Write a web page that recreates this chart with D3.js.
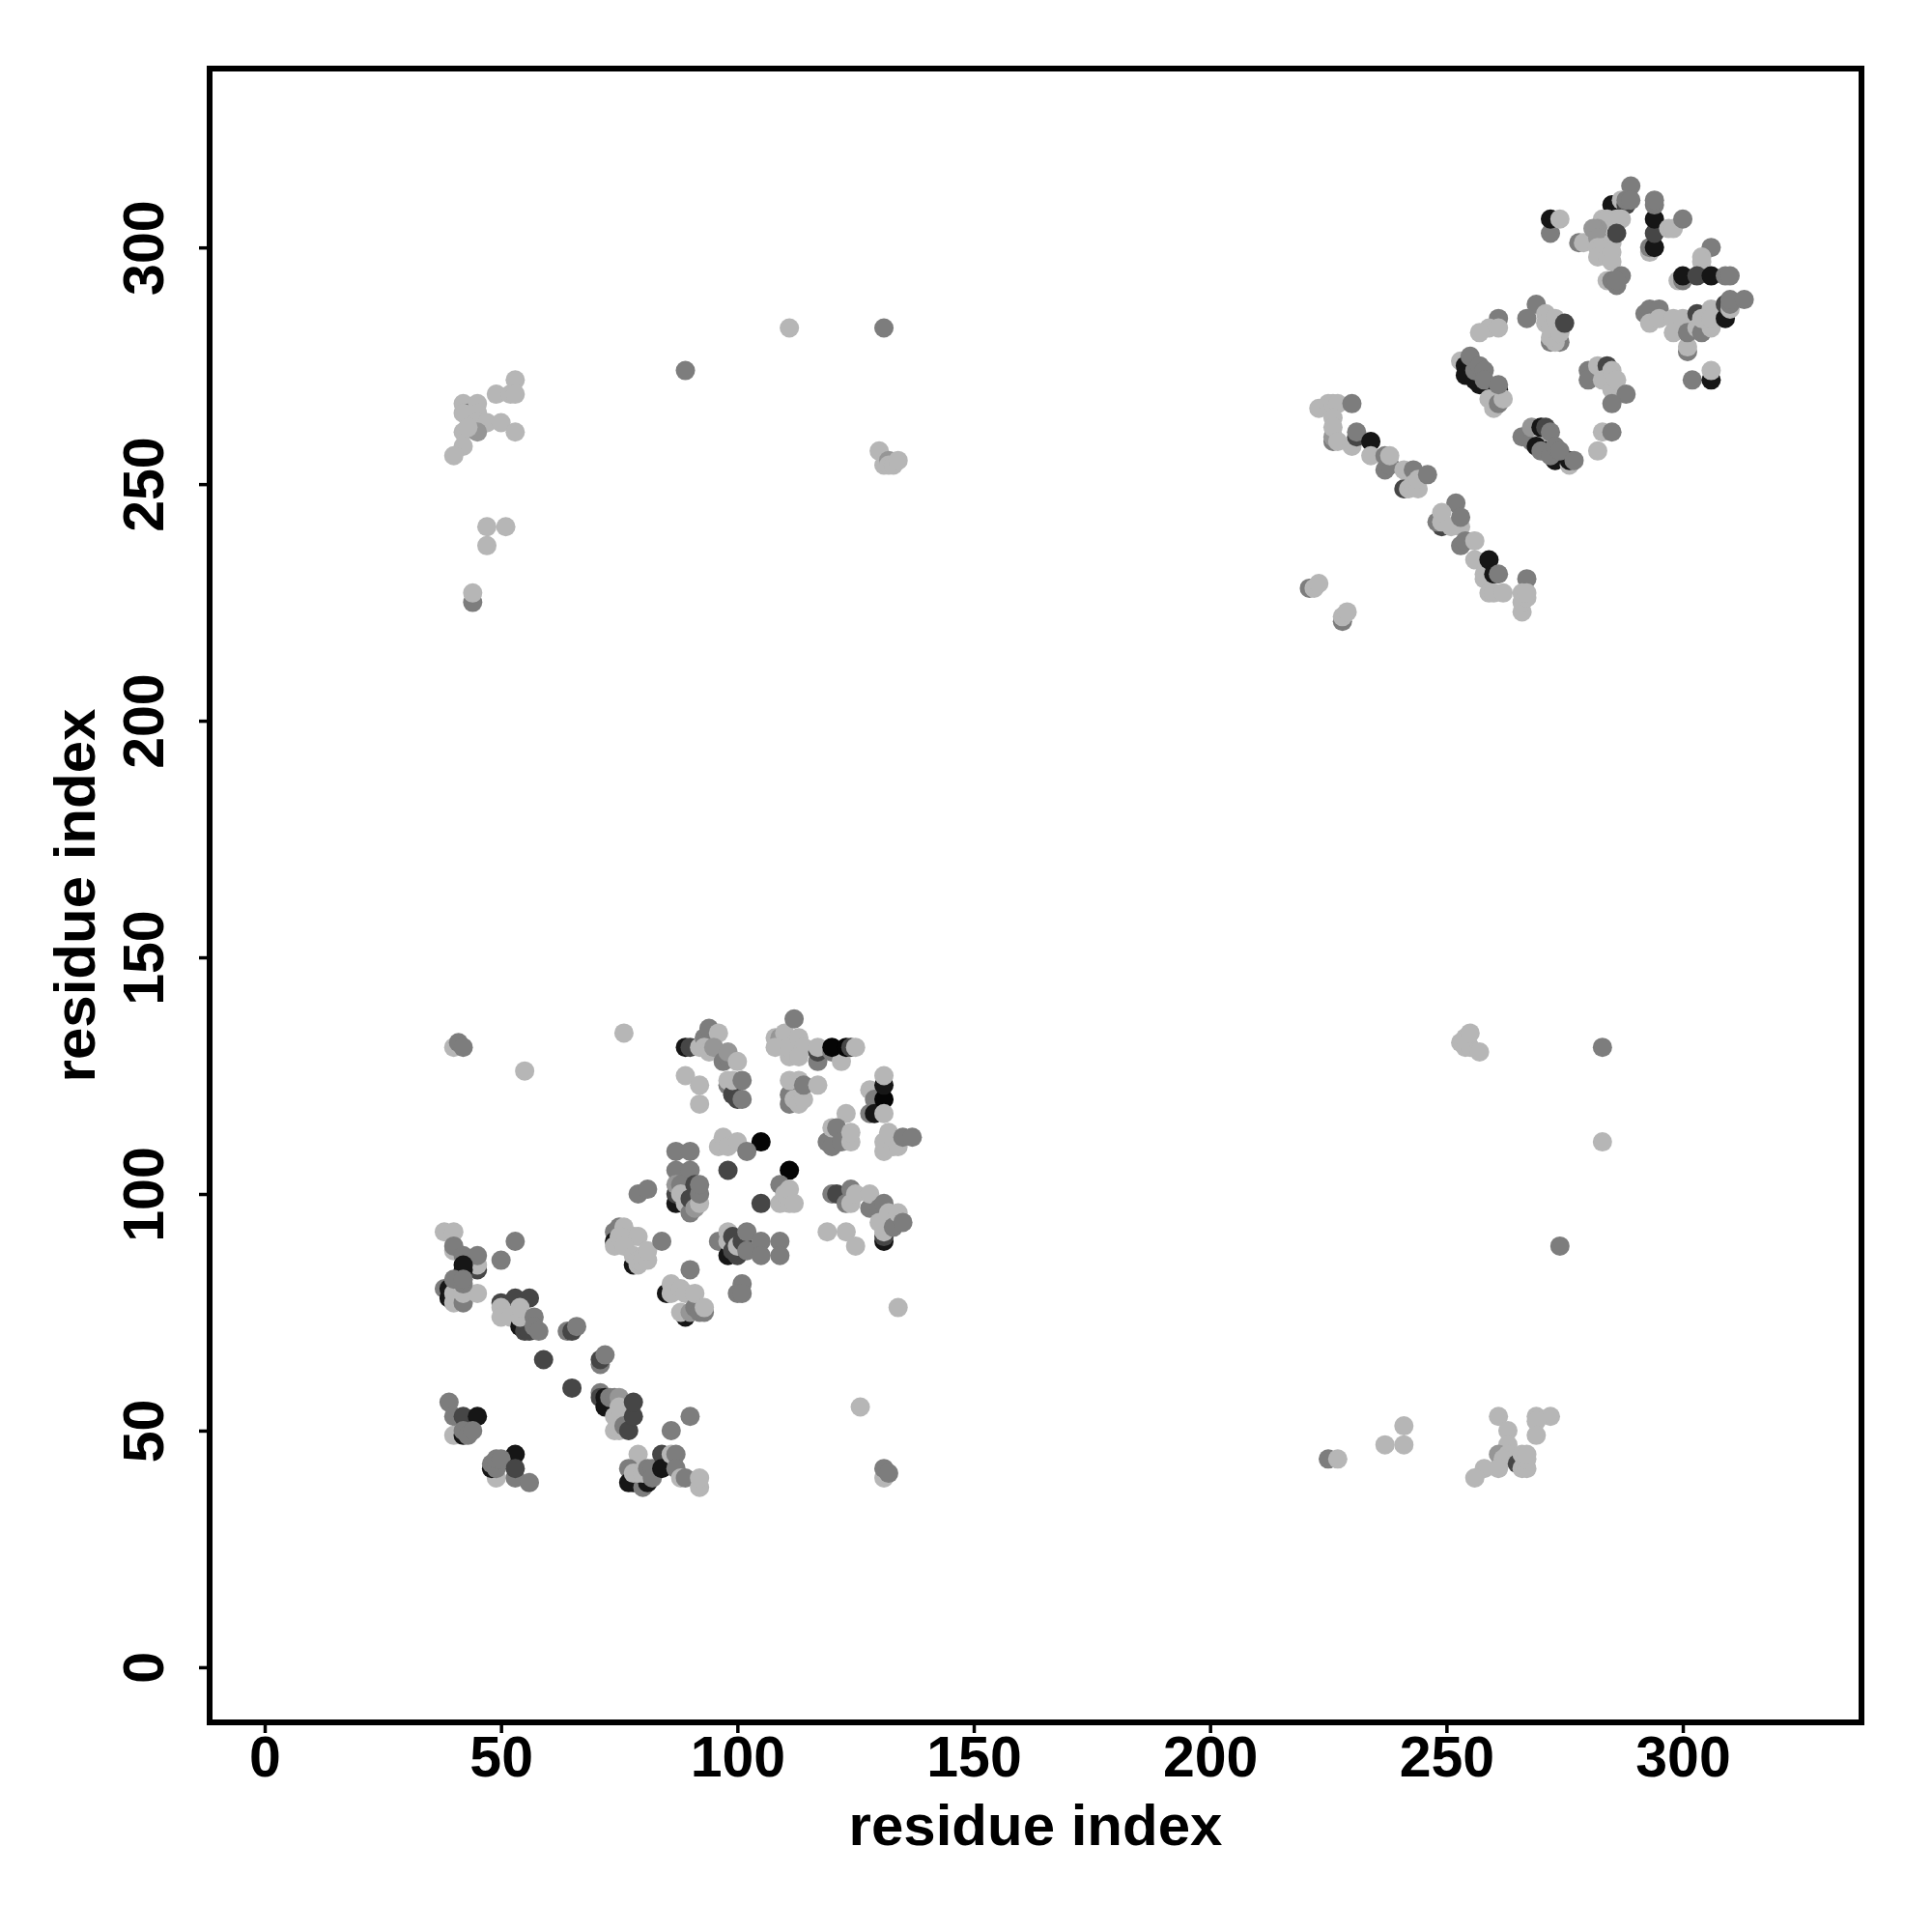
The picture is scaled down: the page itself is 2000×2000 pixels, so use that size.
<!DOCTYPE html>
<html><head><meta charset="utf-8">
<script src="https://cdn.jsdelivr.net/npm/d3@7"></script>
<style>html,body{margin:0;background:#fff}svg{display:block}</style></head>
<body><svg id="c" width="2000" height="2000"></svg>
<script>
const L=182,N=150,M=125,D=70,K=22,B=5;
const tickValues=[0,50,100,150,200,250,300];
const xLabel="residue index", yLabel="residue index";
// [x residue, y residue, grey level], back to front
const lowerDiagonal=[
[38,92,L],[40,92,L],[40,88,L],[40,89,M],[42,87,M],[45,84,D],[45,85,L],[45,87,M],[42,84,K],[42,85,K],[53,90,M],[50,86,M],
[38,80,M],[39,78,K],[39,80,K],[40,77,L],[40,79,L],[40,82,M],[42,77,M],[42,79,L],[45,79,L],[42,81,M],[42,82,M],
[50,77,D],[53,78,D],[56,78,D],[50,76,L],[50,74,L],[52,74,L],[54,72,K],[55,71,D],[56,71,D],[54,74,L],[54,76,L],[57,74,M],[57,72,M],[58,71,M],
[64,71,M],[65,71,D],[66,72,M],[59,65,D],[65,59,D],[71,64,M],[71,65,D],[72,66,M],
[71,58,M],[71,57,D],[72,57,K],[72,55,K],[73,57,M],[74,57,M],[75,57,N],[74,53,L],[74,50,L],[75,50,L],[75,52,L],[75,55,L],[76,51,M],[77,50,D],[78,53,D],[78,56,D],
[90,53,M],[86,50,M],[39,56,M],[40,53,M],[42,53,D],[45,53,K],[40,49,L],[42,49,K],[42,50,M],[43,49,M],[44,50,M],
[53,45,K],[49,40,L],[48,42,K],[48,43,M],[49,42,M],[49,44,M],[50,44,M],[53,40,M],[53,42,D],[56,39,M],
[79,45,L],[77,42,M],[78,39,K],[77,39,K],[80,38,M],[81,39,K],[78,41,L],[79,41,L],[80,41,L],[81,42,M],[82,42,M],[82,40,M],
[84,45,D],[84,42,K],[86,45,L],[87,45,M],[87,42,M],[88,40,L],[89,40,M],[92,38,L],[92,40,L]
];
const lowerCluster=[
[87,109,M],[90,109,M],[87,105,M],[90,105,M],[79,100,M],[81,101,M],[87,98,K],[87,100,D],[87,102,N],[88,102,M],[88,100,L],[89,98,L],[90,96,M],[90,99,D],[91,97,N],[92,98,L],[91,102,D],[92,100,M],[92,102,M],
[74,92,M],[75,93,M],[74,90,K],[74,89,L],[76,93,L],[75,91,L],[78,91,L],[79,91,L],[76,89,L],[78,85,K],[78,87,L],[79,85,L],[79,86,L],[80,86,L],[81,86,L],[81,88,L],
[84,90,M],[90,84,M],[85,79,K],[86,81,L],[86,79,L],[88,80,L],[89,74,K],[88,75,L],[89,79,L],[90,75,N],[91,76,M],[91,79,L],[92,75,M],[93,75,M],[93,76,L],
[101,81,M],[100,79,M],[101,79,M],
[96,90,M],[98,87,K],[98,92,L],[98,90,L],[100,87,D],[99,91,D],[99,88,D],[100,89,L],[101,90,D],[102,88,M],[102,92,M],[105,90,M],[105,87,M],[109,90,M],[109,87,M],
[98,105,D],[105,98,D],[105,111,B],[111,105,B],
[96,110,L],[97,112,L],[98,110,L],[100,111,L],[102,109,M],
[89,131,K],[90,131,D],[92,131,L],[93,133,M],[94,135,M],[96,134,L],[93,131,L],[94,130,L],[95,131,N],[97,128,M],[98,129,M],[98,130,N],[100,128,L],[89,125,L],[92,123,L],[92,119,L],
[98,123,M],[98,124,L],[99,121,D],[99,124,L],[100,120,D],[101,120,M],[101,124,M],
[108,133,L],[109,133,N],[110,134,L],[112,137,M],[108,131,L],[111,129,L],[111,131,L],[113,133,L],[114,131,L],[113,129,L],[117,128,M],[117,130,D],[117,131,L],[120,130,M],[122,128,L],[120,131,B],[123,131,B],[124,131,D],[125,131,L],
[111,119,M],[111,121,M],[111,124,L],[112,120,L],[113,119,L],[113,124,L],[114,120,L],[114,123,M],[117,123,L],[128,122,L],[129,120,M],[128,117,M],[129,117,K],[123,117,L],[131,120,B],[131,123,K],[131,117,L],[131,125,L],
[119,111,M],[120,110,M],[120,114,L],[121,114,M],[122,111,M],[124,111,L],[124,113,L],[131,111,L],[131,109,L],[133,110,L],[132,113,L],[134,110,L],[135,112,M],[137,112,M],
[109,102,M],[109,98,L],[110,100,L],[111,98,L],[111,101,L],[112,98,L],
[120,100,M],[121,100,D],[124,101,M],[123,98,M],[124,98,L],[125,100,L],[128,97,M],[128,100,L],[130,97,M],[131,98,M],[131,90,K],[131,91,D],[131,92,L],[130,94,L],[132,96,L],[133,93,M],[134,96,L],[135,94,M],
[119,92,L],[123,92,L],[125,89,L],[134,76,L],[126,55,L],[131,40,L],[131,42,M],[132,41,M],
[40,131,L],[41,132,M],[42,131,M],[76,134,L],[55,126,L]
];
const upperLeft=[
[53,272,L],[49,269,L],[52,269,L],[53,269,L],[42,267,L],[43,265,D],[45,267,L],[42,265,L],[45,265,L],[45,263,L],[47,263,L],[50,263,L],[53,261,L],[42,261,L],[45,261,N],[43,262,L],[42,258,L],[40,256,L],
[47,241,L],[51,241,L],[47,237,L],[44,225,M],[44,227,L],[89,274,M],[111,283,L],[131,283,M],
[130,257,L],[131,254,L],[132,255,N],[132,254,L],[133,254,L],[134,255,L]
];
const lowerRight=[
[254,131,L],[253,132,L],[255,131,L],[254,133,L],[255,134,L],[257,130,L],[283,131,M],[283,111,L],[274,89,M],[225,44,M],[227,44,L],
[241,51,L],[237,47,L],[241,47,L],[261,53,L],[263,50,L],[269,53,L],[272,53,L],[269,52,L],[269,49,L],[263,47,L],[261,45,N],[263,45,L],[262,44,L],[261,42,L],[258,42,L],[256,40,L],[265,43,D],[266,42,L],[267,42,L],[266,45,L],[267,44,L],[267,45,L]
];
const upperHelix=[
[223,266,L],[225,267,L],[226,267,L],[227,267,L],[230,267,M],[226,264,L],[226,259,M],[226,260,N],[226,262,L],[227,259,L],[230,258,L],[231,260,D],[231,261,M],[234,259,K],[234,256,L],[237,253,M],[238,254,M],[237,256,M],[238,256,L],
[241,249,D],[242,249,L],[241,253,L],[243,253,M],[243,250,L],[244,249,L],[244,251,L],[246,252,M],
[252,246,M],[249,241,D],[248,242,M],[249,242,L],[249,244,L],[251,241,L],[253,241,L],[253,243,M],[253,237,M],[254,238,M],[256,238,L],[256,234,L],[258,231,L],[258,230,L],[259,234,K],[260,231,K],[261,231,M],
[259,227,L],[260,227,L],[262,227,L],[267,230,M],[266,223,L],[266,225,L],[267,226,L],[266,227,L],[267,227,L],
[221,228,M],[222,228,L],[223,229,L],[228,221,M],[228,222,L],[229,223,L]
];
const upperCluster=[
[261,285,M],[259,283,L],[261,283,L],[257,282,L],[269,288,M],[267,285,M],[271,286,L],[271,284,L],[272,280,M],[274,280,M],[273,280,L],[272,281,L],[272,283,L],[273,285,L],[274,282,L],[275,284,D],
[253,276,L],[254,275,K],[254,273,K],[256,272,K],[257,271,K],[259,270,K],[255,277,M],[256,274,M],[257,275,M],[258,274,M],[258,272,M],[261,270,K],[259,268,L],[260,266,L],[261,267,M],[262,268,L],[261,271,M],
[280,274,M],[280,272,M],[282,275,L],[284,275,D],[283,272,L],[285,274,L],[285,270,L],[286,272,L],[288,269,M],[285,267,M],
[282,257,L],[283,261,L],[285,261,M],
[266,260,M],[268,259,M],[268,262,N],[270,259,L],[270,262,K],[271,262,D],[269,258,K],[271,257,K],[273,255,K],[276,254,L],[276,255,K],[272,261,M],[270,257,M],[272,256,M],[273,258,M],[274,257,M],[277,255,M]
];
const upperCorner=[
[289,313,M],[285,309,K],[287,310,L],[288,309,D],[288,310,M],[289,310,M],[293,299,L],[293,300,M],[294,300,K],[294,303,D],[294,306,K],[294,309,M],[294,310,M],
[297,304,L],[298,304,L],[300,306,M],[278,301,M],[279,301,L],[283,306,L],[284,306,L],[282,304,N],[281,304,N],[282,302,N],[282,300,L],[283,300,L],[282,298,L],[284,298,L],[285,301,L],[285,299,L],[285,297,L],[284,293,L],[286,306,L],[287,306,L],[286,303,D],
[285,293,M],[286,292,M],[287,294,M],[286,293,M],
[272,303,M],[272,306,K],[274,306,L],
[306,300,M],[304,298,L],[304,297,L],[299,293,L],[300,293,M],[300,294,K],[303,294,D],[306,294,K],[309,294,M],[310,294,M],
[292,286,M],[293,287,M],[295,287,M],[293,284,L],[295,285,L],[298,285,L],[300,285,L],[298,282,L],[301,278,M],[301,279,L],[301,282,M],[303,286,D],[303,283,L],[304,282,M],[304,285,L],[306,283,L],[306,287,L],[306,285,L],[309,285,K],[309,288,D],[310,287,L],[310,288,M],[310,289,M],[313,289,M],
[302,272,M],[306,272,K],[306,274,L]
];
const contacts=[...lowerDiagonal,...lowerCluster,...upperLeft,...lowerRight,...upperHelix,...upperCluster,...upperCorner];

const left=217,right=1927,top_=71,bottom=1783;
const x=d3.scaleLinear().domain([-11.65,337.8]).range([left,right]);
const y=d3.scaleLinear().domain([-11.65,337.8]).range([bottom,top_]);
const svg=d3.select("#c");
const font="'Liberation Sans',Arial,sans-serif";

svg.append("g").selectAll("circle").data(contacts).join("circle")
 .attr("cx",d=>x(d[0])).attr("cy",d=>y(d[1])).attr("r",10)
 .attr("fill",d=>d3.rgb(d[2],d[2],d[2]));

const gx=svg.append("g").attr("transform",`translate(0,${bottom})`)
 .call(d3.axisBottom(x).tickValues(tickValues).tickSize(11).tickPadding(3));
const gy=svg.append("g").attr("transform",`translate(${left},0)`)
 .call(d3.axisLeft(y).tickValues(tickValues).tickSize(11));
[gx,gy].forEach(g=>{
 g.select(".domain").remove();
 g.selectAll("line").attr("stroke","#000").attr("stroke-width",3.5);
 g.selectAll("text").attr("fill","#000").attr("font-family",font).attr("font-weight","bold").attr("font-size",59);
});
gy.selectAll("text").attr("transform","translate(-48,0) rotate(-90)")
 .attr("x",0).attr("y",0).attr("dy",0).attr("text-anchor","middle");

svg.append("rect").attr("x",left).attr("y",top_).attr("width",right-left).attr("height",bottom-top_)
 .attr("fill","none").attr("stroke","#000").attr("stroke-width",6);

svg.append("text").attr("x",(left+right)/2).attr("y",1910).attr("text-anchor","middle")
 .attr("font-family",font).attr("font-weight","bold").attr("font-size",60).text(xLabel);
svg.append("text").attr("transform",`translate(98,${(top_+bottom)/2}) rotate(-90)`).attr("text-anchor","middle")
 .attr("font-family",font).attr("font-weight","bold").attr("font-size",60).text(yLabel);
</script></body></html>
